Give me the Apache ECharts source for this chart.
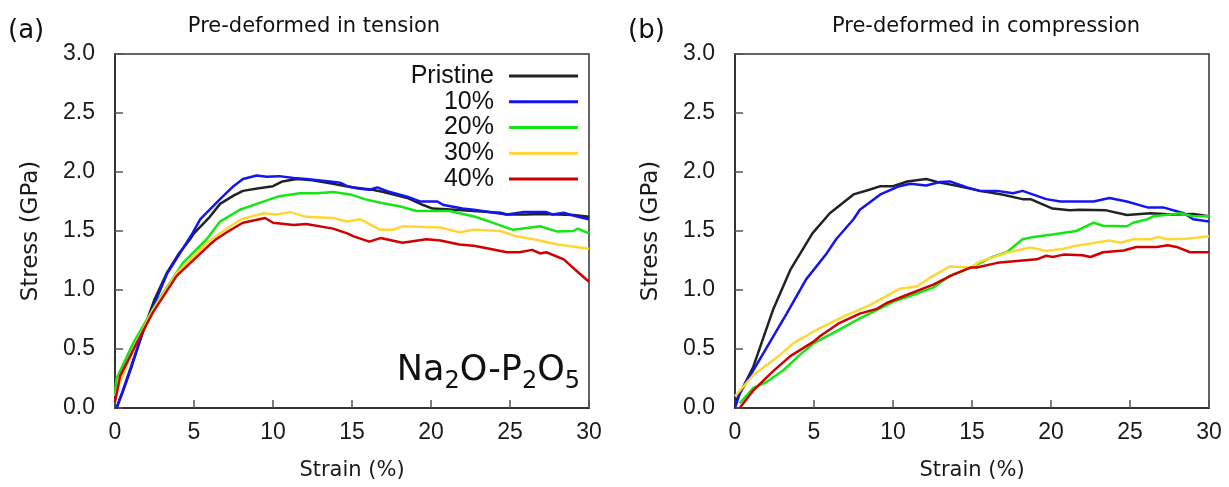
<!DOCTYPE html>
<html>
<head>
<meta charset="utf-8">
<script src="https://cdn.jsdelivr.net/npm/echarts@6/dist/echarts.min.js"></script>
<style>
html,body{margin:0;padding:0;background:#fff;}
#chart{width:1229px;height:487px;}
</style>
</head>
<body>
<div id="chart"></div>
<script>
// ---- Data: [strain (%), stress (GPa)] ----
const seriesNames = ['Pristine', '10%', '20%', '30%', '40%'];
const seriesColors = ['#222222', '#1414f0', '#14e614', '#ffd634', '#d00000'];
const panelTitles = ['Pre-deformed in tension', 'Pre-deformed in compression'];
const panelLabels = ['(a)', '(b)'];
const yTicks = [0, 0.5, 1.0, 1.5, 2.0, 2.5, 3.0];
const xTicks = [0, 5, 10, 15, 20, 25, 30];

// (a) tension
const tensionPristine = [[0.1,0],[0.5,0.14],[1,0.33],[1.8,0.66],[2.5,0.92],[3.3,1.15],[4,1.3],[4.75,1.43],[5,1.48],[6,1.62],[6.65,1.73],[7.5,1.8],[8.1,1.84],[9,1.86],[10,1.88],[10.6,1.92],[11.5,1.94],[12.5,1.93],[13.8,1.9],[14.2,1.89],[15,1.87],[16.3,1.85],[17,1.83],[18.5,1.78],[19.5,1.72],[20.1,1.69],[21.5,1.68],[22.7,1.67],[24.4,1.655],[24.8,1.64],[26,1.64],[27,1.645],[28,1.64],[29,1.635],[30,1.62]];
const tension10 = [[0.1,0],[0.5,0.15],[1.8,0.66],[3.3,1.14],[4.9,1.48],[5.4,1.6],[6.65,1.77],[7.5,1.88],[8.1,1.94],[8.97,1.97],[9.6,1.96],[10.4,1.965],[11.3,1.95],[12.1,1.94],[13.6,1.92],[14.24,1.91],[14.7,1.88],[15.4,1.86],[16.1,1.85],[16.6,1.87],[17.4,1.83],[18.5,1.79],[19.3,1.75],[20.4,1.75],[20.8,1.72],[22,1.69],[22.7,1.68],[24,1.655],[24.8,1.64],[25.8,1.66],[27.3,1.66],[27.7,1.64],[28.4,1.655],[29.3,1.62],[30,1.6]];
const tension20 = [[0,0.12],[0.1,0.25],[1.15,0.55],[2.64,0.89],[4.3,1.23],[5.8,1.43],[6.65,1.58],[7.9,1.68],[9.2,1.74],[10.4,1.795],[11.7,1.82],[12.8,1.82],[13.8,1.83],[14.9,1.81],[15.8,1.77],[16.8,1.74],[18,1.71],[19.1,1.67],[20,1.67],[21.2,1.67],[21.8,1.65],[22.8,1.62],[23.7,1.58],[25.2,1.51],[26.9,1.54],[28,1.495],[29,1.5],[29.3,1.52],[30,1.48]];
const tension30 = [[0,0.1],[0.3,0.22],[1.37,0.56],[2.4,0.83],[3.9,1.14],[6,1.42],[7.3,1.54],[8,1.6],[9.4,1.65],[10.2,1.64],[11.1,1.66],[12.1,1.62],[13.8,1.61],[14.7,1.58],[15.5,1.6],[16.8,1.51],[17.6,1.51],[18.2,1.54],[20.6,1.53],[21.8,1.49],[22.7,1.51],[24.4,1.5],[25.4,1.455],[26.5,1.43],[28,1.385],[30,1.35]];
const tension40 = [[0,0.05],[0.32,0.27],[1.37,0.55],[2.4,0.81],[3.9,1.12],[6,1.385],[6.4,1.43],[7.2,1.5],[7.9,1.555],[8.1,1.57],[9.5,1.61],[10,1.57],[11.3,1.55],[12.1,1.56],[13.8,1.52],[14.7,1.48],[15.1,1.455],[16.1,1.41],[16.8,1.44],[18.2,1.4],[19.7,1.43],[20.6,1.42],[21.8,1.385],[22.7,1.375],[23.7,1.35],[24.8,1.32],[25.6,1.32],[26.4,1.34],[26.9,1.31],[27.3,1.32],[28.4,1.26],[29.4,1.14],[30,1.07]];

// (b) compression
const compPristine = [[0,0.02],[0.1,0.07],[1.16,0.35],[2.4,0.83],[3.5,1.17],[4.9,1.48],[6,1.65],[7.5,1.81],[8.5,1.85],[9.2,1.88],[10,1.88],[10.9,1.92],[12.1,1.94],[12.97,1.91],[14.2,1.88],[15.5,1.84],[16.9,1.81],[18.2,1.77],[18.7,1.77],[20.1,1.69],[21.2,1.675],[21.8,1.68],[23.5,1.675],[24.8,1.635],[26.3,1.65],[27.7,1.64],[29,1.645],[30,1.625]];
const comp10 = [[0,0],[0.3,0.125],[1.8,0.465],[3.27,0.8],[4.5,1.09],[5.8,1.31],[6.4,1.43],[7.5,1.6],[7.9,1.68],[9.2,1.81],[10.4,1.88],[11.1,1.9],[12.1,1.885],[12.97,1.915],[13.6,1.92],[14.7,1.87],[15.5,1.84],[16.6,1.84],[17.6,1.82],[18.2,1.84],[19.7,1.77],[20.6,1.75],[21.6,1.75],[22.7,1.75],[23.7,1.78],[24.8,1.75],[26.1,1.7],[27.1,1.7],[28.4,1.65],[29,1.6],[30,1.58]];
const comp20 = [[0.3,0.04],[1.16,0.17],[2,0.22],[3.06,0.32],[4.1,0.45],[5,0.55],[6.4,0.65],[7.9,0.76],[8.97,0.83],[10,0.9],[11.3,0.96],[12.55,1.02],[13.6,1.12],[14.2,1.15],[15.3,1.215],[16.3,1.28],[17.2,1.32],[18.2,1.43],[18.9,1.45],[20.1,1.47],[21.6,1.5],[22.7,1.57],[23.3,1.545],[24.8,1.54],[25.2,1.57],[26.1,1.6],[26.5,1.625],[28.2,1.65],[29,1.625],[30,1.625]];
const comp30 = [[0,0.1],[1.16,0.28],[2.85,0.45],[3.7,0.55],[5.4,0.68],[7.1,0.79],[8.5,0.87],[9.2,0.92],[10.4,1.01],[11.5,1.03],[12.3,1.1],[13.6,1.2],[14.9,1.19],[15.5,1.24],[17.2,1.315],[18.7,1.36],[19.7,1.33],[20.8,1.35],[21.4,1.37],[22.3,1.39],[23.7,1.42],[24.4,1.4],[25.2,1.43],[26.3,1.43],[26.8,1.45],[27.3,1.43],[28.6,1.435],[30,1.455]];
const comp40 = [[0.3,0],[1.16,0.15],[2.4,0.31],[3.5,0.44],[5,0.565],[5.4,0.61],[6.6,0.72],[7.9,0.8],[8.97,0.84],[9.6,0.89],[10.9,0.96],[12.55,1.045],[13.8,1.13],[14.9,1.19],[15.3,1.19],[16.6,1.23],[18.2,1.25],[19.1,1.26],[19.7,1.29],[20.1,1.28],[20.8,1.3],[22,1.295],[22.5,1.28],[23.3,1.32],[24.6,1.335],[25.4,1.365],[26.7,1.365],[27.4,1.38],[27.95,1.365],[28.8,1.32],[30,1.32]];

const panelData = [
  [tensionPristine, tension10, tension20, tension30, tension40],
  [compPristine, comp10, comp20, comp30, comp40]
];

// ---- Chart ----
const W = 1229, H = 487;
const grids = [
  {left: 115, top: 54, width: 474, height: 354},
  {left: 735, top: 54, width: 474, height: 354}
];
const tickFont = 'Liberation Sans, Arial, sans-serif';
const dejavu = 'DejaVu Sans, Verdana, sans-serif';

const option = {
  animation: false,
  backgroundColor: '#fff',
  grid: grids.map(g => Object.assign({show: true, borderColor: '#333', borderWidth: 1.5, backgroundColor: 'transparent'}, g)),
  xAxis: grids.map((g, i) => ({
    type: 'value', gridIndex: i, min: xTicks[0], max: xTicks[xTicks.length-1], interval: 5,
    name: 'Strain (%)', nameLocation: 'middle', nameGap: 52,
    nameTextStyle: {fontFamily: dejavu, fontSize: 21, color: '#1a1a1a'},
    axisLine: {show: true, onZero: false, lineStyle: {color: '#333', width: 2}},
    axisTick: {show: true, inside: true, length: 8, lineStyle: {color: '#555', width: 1.5}},
    axisLabel: {margin: 13, fontFamily: tickFont, fontSize: 23, color: '#1a1a1a'},
    splitLine: {show: false}
  })),
  yAxis: grids.map((g, i) => ({
    type: 'value', gridIndex: i, min: yTicks[0], max: yTicks[yTicks.length-1], interval: 0.5,
    name: 'Stress (GPa)', nameLocation: 'middle', nameGap: 72, nameRotate: 90,
    nameTextStyle: {fontFamily: dejavu, fontSize: 23, color: '#1a1a1a'},
    axisLine: {show: true, onZero: false, lineStyle: {color: '#333', width: 2}},
    axisTick: {show: true, inside: true, length: 8, lineStyle: {color: '#555', width: 1.5}},
    axisLabel: {margin: 20, fontFamily: tickFont, fontSize: 23, color: '#1a1a1a', formatter: v => v.toFixed(1)},
    splitLine: {show: false}
  })),
  legend: seriesNames.map((n, k) => ({
    data: [n], orient: 'vertical', align: 'right', right: W - 578, top: 63 + k * 25.75,
    padding: 0, itemWidth: 69, itemHeight: 3, icon: 'rect',
    textStyle: {fontFamily: tickFont, fontSize: 25, color: '#111', padding: [0, 10, 0, 0], lineHeight: 26},
    selectedMode: false
  })),
  series: [],
  graphic: []
};

panelData.forEach((arrs, p) => {
  arrs.forEach((d, k) => {
    option.series.push({
      type: 'line', name: seriesNames[k], xAxisIndex: p, yAxisIndex: p,
      data: d, showSymbol: false, symbol: 'none', smooth: false, clip: true,
      lineStyle: {color: seriesColors[k], width: 2.5},
      itemStyle: {color: seriesColors[k]},
      z: 2 + k
    });
  });
  const g = grids[p];
  option.graphic.push({
    type: 'text', x: g.left - 107, y: 31,
    style: {text: panelLabels[p], font: '26px DejaVu Sans', fill: '#111', textVerticalAlign: 'middle'}
  });
});
option.graphic.push({
  type: 'text', x: 314, y: 27,
  style: {text: panelTitles[0], font: '21px DejaVu Sans', fill: '#111', textAlign: 'center', textVerticalAlign: 'middle'}
});
option.graphic.push({
  type: 'text', x: 986, y: 27,
  style: {text: panelTitles[1], font: '21px DejaVu Sans', fill: '#111', textAlign: 'center', textVerticalAlign: 'middle'}
});
option.graphic.push({
  type: 'text', right: W - 580, bottom: H - 394, z: 100,
  style: {
    text: '{m|Na}{s|2}{m|O-P}{s|2}{m|O}{s|5}',
    rich: {
      m: {fontFamily: 'DejaVu Sans', fontSize: 35, lineHeight: 44, verticalAlign: 'bottom', padding: [0, 0, 6, 0], fill: '#111', color: '#111'},
      s: {fontFamily: 'DejaVu Sans', fontSize: 24, lineHeight: 44, verticalAlign: 'bottom', padding: [0, 0, 0, 0], fill: '#111', color: '#111'}
    }
  }
});

const chart = echarts.init(document.getElementById('chart'), null, {renderer: 'canvas'});
chart.setOption(option);
</script>
</body>
</html>
